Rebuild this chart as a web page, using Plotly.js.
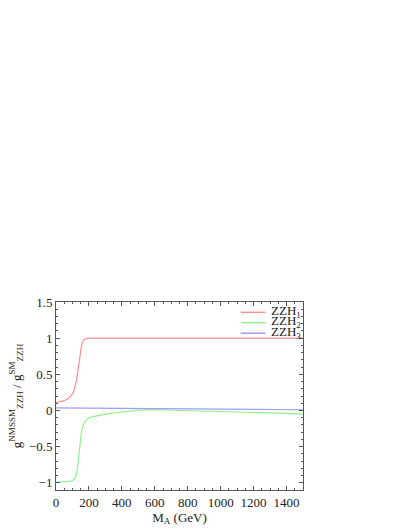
<!DOCTYPE html>
<html><head><meta charset="utf-8">
<script src="https://cdn.plot.ly/plotly-3.0.1.min.js"></script>
<style>html,body{margin:0;padding:0;background:#fff;}#chart{width:409px;height:529px;}</style>
</head><body><div id="chart"></div>
<script>
const seriesNames = ["ZZH<sub>1</sub>", "ZZH<sub>2</sub>", "ZZH<sub>3</sub>"];
const seriesColors = ["#ff8f8f", "#8ff08f", "#9d9dff"];

const x1 = [0, 25, 50, 75, 90, 100, 110, 120, 125, 130, 135, 140, 145, 150, 155, 160, 165, 170, 180, 190, 200, 250, 300, 500, 800, 1000, 1200, 1500];
const y1 = [0.11, 0.12, 0.135, 0.165, 0.2, 0.23, 0.28, 0.36, 0.42, 0.5, 0.59, 0.68, 0.77, 0.85, 0.9, 0.94, 0.965, 0.98, 0.99, 0.995, 1.0, 1.0, 1.0, 1.0, 1.0, 1.0, 1.0, 1.0];

const x2 = [0, 50, 80, 100, 110, 120, 125, 130, 135, 140, 145, 150, 155, 160, 165, 170, 180, 190, 200, 225, 250, 300, 350, 400, 450, 500, 600, 700, 800, 900, 1000, 1100, 1200, 1300, 1400, 1500];
const y2 = [-0.99, -0.99, -0.985, -0.97, -0.95, -0.91, -0.87, -0.8, -0.7, -0.58, -0.46, -0.36, -0.29, -0.24, -0.2, -0.175, -0.14, -0.12, -0.105, -0.085, -0.07, -0.05, -0.035, -0.02, -0.005, 0.005, 0.01, 0.005, 0.0, -0.005, -0.01, -0.015, -0.02, -0.03, -0.04, -0.05];

const x3 = [0, 200, 500, 800, 1000, 1200, 1500];
const y3 = [0.035, 0.032, 0.02, 0.015, 0.012, 0.01, 0.01];

const xs = [x1, x2, x3];
const ys = [y1, y2, y3];

const font = {family: "Liberation Serif, Times New Roman, serif", size: 13, color: "#222"};

const traces = xs.map((x, i) => ({
  x: x, y: ys[i], type: "scatter", mode: "lines", name: seriesNames[i],
  line: {color: seriesColors[i], width: 1.2},
  showlegend: false, hoverinfo: "skip"
}));

// custom compact legend
const shapes = [];
const annotations = [];
const legY = [0.945, 0.89, 0.834];
seriesNames.forEach((n, i) => {
  shapes.push({type: "line", xref: "paper", yref: "paper", x0: 0.748, x1: 0.848, y0: legY[i], y1: legY[i],
    line: {color: seriesColors[i], width: 1.5}});
  annotations.push({xref: "paper", yref: "paper", x: 0.862, y: legY[i] + 0.005, xanchor: "left", yanchor: "middle",
    text: n, showarrow: false, font: font});
});

const axisCommon = {
  showline: true, linecolor: "#555", linewidth: 1, mirror: "allticks",
  ticks: "inside", ticklen: 4, tickcolor: "#555", showgrid: false, zeroline: false,
  tickfont: font
};

const layout = {
  width: 409, height: 529,
  margin: {l: 56, r: 106, t: 302, b: 39},
  paper_bgcolor: "#fff", plot_bgcolor: "#fff",
  font: font,
  xaxis: Object.assign({}, axisCommon, {
    range: [0, 1500], dtick: 200, tick0: 0,
    minor: {dtick: 50, ticks: "inside", ticklen: 2, tickcolor: "#555"},
    title: {text: "M<sub>A</sub> (GeV)", font: font, standoff: 0}
  }),
  yaxis: Object.assign({}, axisCommon, {
    range: [-1.1, 1.5], dtick: 0.5, tick0: 0,
    minor: {dtick: 0.1, ticks: "inside", ticklen: 2, tickcolor: "#555"},
    title: {text: "g<sup>NMSSM</sup><sub>ZZH</sub> / g<sup>SM</sup><sub>ZZH</sub>", font: font, standoff: 4}
  }),
  shapes: shapes,
  annotations: annotations
};

Plotly.newPlot("chart", traces, layout, {staticPlot: true, displayModeBar: false});
</script></body></html>
